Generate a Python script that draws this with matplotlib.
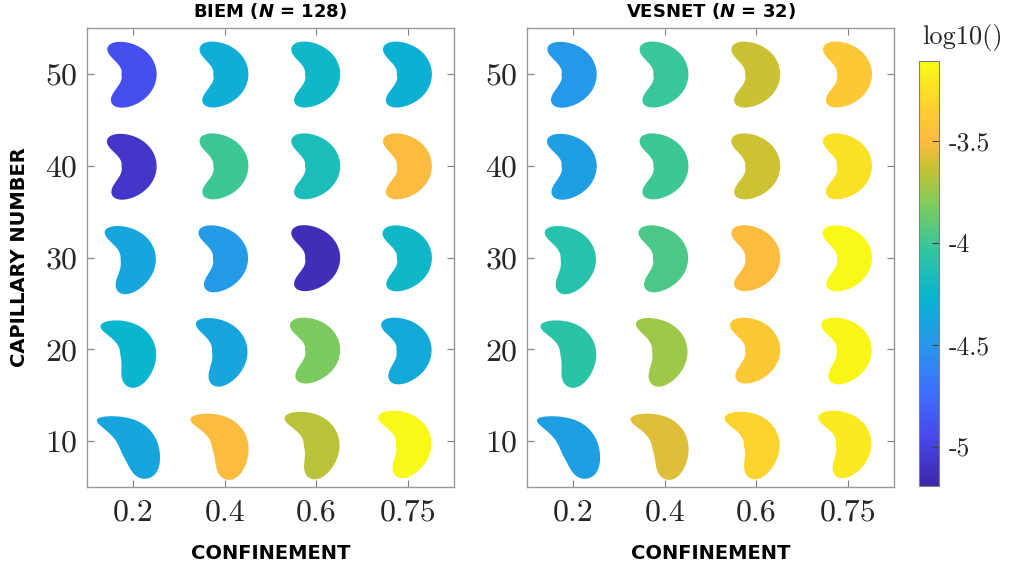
import numpy as np
import matplotlib
matplotlib.use('Agg')
import matplotlib.pyplot as plt
from matplotlib.colors import LinearSegmentedColormap, Normalize
from matplotlib.patches import Polygon
from matplotlib.cm import ScalarMappable

plt.rcParams['mathtext.fontset'] = 'custom'
plt.rcParams['mathtext.rm'] = 'DejaVu Sans:bold'
plt.rcParams['mathtext.it'] = 'DejaVu Sans:italic:bold'

confinement = ['0.2', '0.4', '0.6', '0.75']
capillary = [10, 20, 30, 40, 50]

# log10 of the error, rows: capillary number 10..50, cols: confinement
biem_err = np.array([
    [-4.38, -3.50, -3.67, -3.13],
    [-4.25, -4.38, -3.82, -4.35],
    [-4.38, -4.46, -5.13, -4.23],
    [-5.07, -4.00, -4.15, -3.50],
    [-4.92, -4.32, -4.23, -4.30],
])
vesnet_err = np.array([
    [-4.44, -3.58, -3.32, -3.20],
    [-4.07, -3.73, -3.40, -3.14],
    [-4.09, -3.96, -3.50, -3.13],
    [-4.44, -4.00, -3.62, -3.25],
    [-4.48, -4.02, -3.63, -3.40],
])

# vesicle shape: tilt (deg), thickness skew, bend (rad)
tilt = np.array([
    [40, 30, 22, 16],
    [24, 14, 6, 8],
    [12, 6, 3, 4],
    [5, 3, 3, 3],
    [4, 3, 3, 3],
])
skew = np.array([
    [0.45, 0.35, 0.25, 0.2],
    [0.3, 0.2, 0.05, 0.1],
    [0.15, 0.05, 0.0, 0.0],
    [0.05, 0.0, 0.0, 0.0],
    [0.05, 0.0, 0.0, 0.0],
])
bend = np.array([
    [0.6, 0.85, 1.0, 1.1],
    [0.95, 1.05, 1.25, 1.2],
    [1.1, 1.2, 1.25, 1.25],
    [1.25, 1.25, 1.25, 1.25],
    [1.25, 1.25, 1.25, 1.25],
])

# parula
parula = LinearSegmentedColormap.from_list('parula', [
    (0.000, (0.2422, 0.1504, 0.6603)),
    (0.111, (0.2803, 0.2782, 0.9221)),
    (0.222, (0.2440, 0.4358, 0.9988)),
    (0.333, (0.1540, 0.5902, 0.9218)),
    (0.444, (0.0297, 0.7082, 0.8163)),
    (0.556, (0.1938, 0.7758, 0.6251)),
    (0.667, (0.5044, 0.7993, 0.3480)),
    (0.750, (0.7800, 0.7600, 0.2000)),
    (0.810, (0.9900, 0.7300, 0.2500)),
    (0.890, (0.9892, 0.8136, 0.1885)),
    (1.000, (0.9769, 0.9839, 0.0805)),
])
norm = Normalize(-5.19, -3.11)


def vesicle(angle, k, b, n=600):
    # swept outline around a bent centreline, pixel units, centred at the origin
    half_len, arm_w = 42.0, 12.0
    s = np.linspace(-1, 1, n)
    phi = b * np.tanh(1.5 * s) / np.tanh(1.5)
    dl = half_len * (s[1] - s[0])
    tx, ty = -np.sin(phi), np.cos(phi)
    cx = np.cumsum(tx) * dl
    cy = np.cumsum(ty) * dl
    w = arm_w * np.sqrt(np.clip(1 - np.abs(s)**3.5, 0, None))
    w *= (1 + 0.38 * np.exp(-(s / 0.55)**2)) * (1 - k * s)
    x = np.concatenate([cx + w * np.cos(phi), (cx - w * np.cos(phi))[::-1]]) * 1.06
    y = np.concatenate([cy + w * np.sin(phi), (cy - w * np.sin(phi))[::-1]])
    x -= (x.max() + x.min()) / 2
    y -= (y.max() + y.min()) / 2
    a = np.deg2rad(angle)
    return x * np.cos(a) - y * np.sin(a), x * np.sin(a) + y * np.cos(a)


fig = plt.figure(figsize=(10.17, 5.65), dpi=100)
ax1 = fig.add_axes([0.0855, 0.138, 0.3609, 0.8124])
ax2 = fig.add_axes([0.5182, 0.138, 0.3609, 0.8124])
cax = fig.add_axes([0.9036, 0.1398, 0.0197, 0.7522])

px_x = 0.3609 * 1017 / 4.0   # pixels per x unit
px_y = 0.8124 * 565 / 50.0   # pixels per y unit

for ax, err, name in [(ax1, biem_err, r'BIEM ($\mathit{N}$ = $\mathit{128}$)'),
                      (ax2, vesnet_err, r'VESNET ($\mathit{N}$ = $\mathit{32}$)')]:
    for i, ca in enumerate(capillary):
        for j in range(len(confinement)):
            vx, vy = vesicle(tilt[i, j], skew[i, j], bend[i, j])
            pts = np.column_stack([j + 1 + vx / px_x, ca + vy / px_y])
            ax.add_patch(Polygon(pts, closed=True, facecolor=parula(norm(err[i, j])),
                                 edgecolor='none'))
    ax.set_xlim(0.5, 4.5)
    ax.set_ylim(5, 55)
    ax.set_xticks(range(1, 5))
    ax.set_xticklabels(confinement)
    ax.set_yticks(capillary)
    ax.set_yticklabels([str(c) for c in capillary])
    ax.tick_params(direction='in', length=5, width=0.8, color='#808080',
                   top=True, right=True, labelsize=23, labelcolor='#262626')
    ax.tick_params(axis='x', pad=9)
    ax.tick_params(axis='y', pad=7)
    for lab in ax.get_xticklabels() + ax.get_yticklabels():
        lab.set_family('cmr10')
    for sp in ax.spines.values():
        sp.set_color('#9a9a9a')
        sp.set_linewidth(1.0)
    ax.set_xlabel('CONFINEMENT', fontsize=14, fontweight='bold', labelpad=12)
    ax.set_title(name, fontsize=13, fontweight='bold', pad=8)

ax1.set_ylabel('CAPILLARY NUMBER', fontsize=14, fontweight='bold', labelpad=12)

cb = fig.colorbar(ScalarMappable(norm=norm, cmap=parula), cax=cax)
cb.set_ticks([-5, -4.5, -4, -3.5])
cb.set_ticklabels(['-5', '-4.5', '-4', '-3.5'])
cax.tick_params(direction='in', length=5, width=0.8, color='#404040',
                labelsize=18.5, labelcolor='#262626', pad=7)
for lab in cax.get_yticklabels():
    lab.set_family('cmr10')
cb.outline.set_edgecolor('#808080')
cb.outline.set_linewidth(0.8)
fig.text(0.9066, 0.922, 'log10()', family='cmr10', fontsize=19, color='#262626',
         va='baseline')

fig.savefig('out.png', dpi=100)
